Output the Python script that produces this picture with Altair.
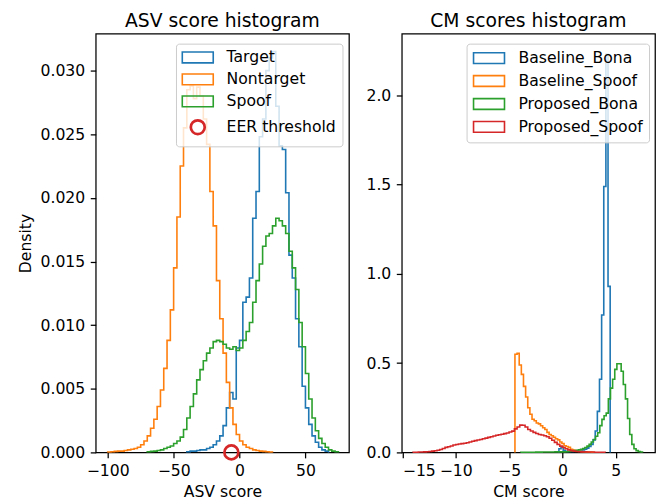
import altair as alt
import pandas as pd

FONT = "DejaVu Sans"
BLUE, ORANGE, GREEN, RED = "#1f77b4", "#ff7f0e", "#2ca02c", "#d62728"

# ---------------- ASV score histogram (density, bins of 2.5) ----------------
asv_series = ["Target", "Nontarget", "Spoof"]
asv_bin_width = 2.5

target_first_edge = -40.0
target_density = [
    0.00005, 0.0001, 0.0001, 0.00015, 0.0002, 0.0002, 0.0003, 0.0004, 0.0006, 0.0009,
    0.0013, 0.0021, 0.0035, 0.0047, 0.0042, 0.0082, 0.0088, 0.0118, 0.0122, 0.0137,
    0.0184, 0.0205, 0.0248, 0.0262, 0.0300, 0.0310, 0.0315, 0.0272, 0.0241, 0.0238,
    0.0204, 0.0155, 0.0137, 0.0105, 0.0083, 0.0052, 0.0035, 0.0022, 0.0013, 0.0008,
    0.0004, 0.0002, 0.0001,
]

nontarget_first_edge = -100.0
nontarget_density = [
    0.00003, 0.00005, 0.00008, 0.0001, 0.0001, 0.00015, 0.0002, 0.00025, 0.0003, 0.0004,
    0.0006, 0.0009, 0.0013, 0.0019, 0.0026, 0.0036, 0.0049, 0.0066, 0.0088, 0.0112,
    0.0145, 0.0185, 0.0225, 0.0255, 0.0285, 0.0288, 0.0278, 0.0287, 0.0280, 0.0262,
    0.0242, 0.0205, 0.0178, 0.0135, 0.0105, 0.0078, 0.0055, 0.0035, 0.0022, 0.0014,
    0.0009, 0.0006, 0.0004, 0.0003, 0.0002, 0.00015, 0.0001, 0.00008, 0.00005, 0.00003,
]

spoof_first_edge = -70.0
spoof_density = [
    0.00005, 0.00008, 0.0001, 0.00015, 0.0002, 0.0003, 0.0004, 0.0005, 0.0007, 0.0009,
    0.0012, 0.0018, 0.0027, 0.0036, 0.0046, 0.0057, 0.0065, 0.0072, 0.0078, 0.0082,
    0.0087, 0.0088, 0.0087, 0.0085, 0.0082, 0.0081, 0.0083, 0.0080, 0.0082, 0.0088,
    0.0095, 0.0102, 0.0118, 0.0135, 0.0148, 0.0162, 0.0170, 0.0172, 0.0178, 0.0184,
    0.0182, 0.0178, 0.0172, 0.0158, 0.0145, 0.0128, 0.0102, 0.0083, 0.0062, 0.0042,
    0.0027, 0.0017, 0.0011, 0.0007, 0.0004, 0.0002, 0.0001, 0.00005,
]

eer_label = "EER threshold"
eer_threshold_score = [-6.2]
eer_threshold_density = [0.0]

asv_x_ticks = [-100, -50, 0, 50]
asv_y_ticks = [0.0, 0.005, 0.010, 0.015, 0.020, 0.025, 0.030]

# ---------------- CM scores histogram ----------------
cm_series = ["Baseline_Bona", "Baseline_Spoof", "Proposed_Bona", "Proposed_Spoof"]

baseline_bona_first_edge = -0.33
baseline_bona_bin_width = 0.2
baseline_bona_density = [
    0.020, 0.030, 0.012, 0.006, 0.005, 0.005, 0.005, 0.006, 0.007, 0.009,
    0.011, 0.014, 0.018, 0.024, 0.033, 0.045, 0.070, 0.120, 0.230, 0.410,
    0.770, 1.490, 2.230, 0.930,
]

baseline_spoof_first_edge = -4.45
baseline_spoof_bin_width = 0.2
baseline_spoof_density = [
    0.550, 0.555, 0.490, 0.437, 0.370, 0.310, 0.250, 0.214, 0.186, 0.177,
    0.165, 0.160, 0.149, 0.138, 0.128, 0.112, 0.100, 0.093, 0.085, 0.076,
    0.070, 0.058, 0.050, 0.037, 0.033, 0.028, 0.018, 0.013, 0.010, 0.007,
    0.006, 0.005, 0.004, 0.003, 0.002, 0.002, 0.001,
]

proposed_bona_first_edge = -3.9
proposed_bona_bin_width = 0.2
proposed_bona_density = [
    0.001, 0.001, 0.001, 0.001, 0.001, 0.001, 0.001, 0.0015, 0.0015, 0.0015,
    0.002, 0.002, 0.002, 0.002, 0.0025, 0.0025, 0.003, 0.003, 0.003, 0.003,
    0.003, 0.004, 0.005, 0.006, 0.008, 0.010, 0.012, 0.015, 0.018, 0.022,
    0.027, 0.035, 0.045, 0.058, 0.072, 0.090, 0.110, 0.150, 0.185, 0.205,
    0.220, 0.300, 0.360, 0.410, 0.465, 0.497, 0.497, 0.455, 0.380, 0.300,
    0.190, 0.100, 0.045, 0.020, 0.010, 0.005, 0.002,
]

proposed_spoof_first_edge = -14.0
proposed_spoof_bin_width = 0.25
proposed_spoof_density = [
    0.001, 0.001, 0.002, 0.002, 0.003, 0.004, 0.005, 0.007, 0.009, 0.012,
    0.016, 0.022, 0.028, 0.032, 0.036, 0.041, 0.044, 0.047, 0.049, 0.051,
    0.054, 0.058, 0.062, 0.066, 0.069, 0.072, 0.076, 0.080, 0.084, 0.088,
    0.092, 0.096, 0.099, 0.102, 0.105, 0.109, 0.114, 0.119, 0.132, 0.142,
    0.153, 0.152, 0.142, 0.128, 0.120, 0.112, 0.106, 0.100, 0.097, 0.093,
    0.088, 0.079, 0.068, 0.056, 0.045, 0.035, 0.027, 0.020, 0.014, 0.010,
    0.007, 0.005, 0.004, 0.003, 0.003, 0.002, 0.002, 0.002, 0.001, 0.001,
    0.001, 0.001,
]

cm_x_ticks = [-15, -10, -5, 0, 5]
cm_y_ticks = [0.0, 0.5, 1.0, 1.5, 2.0]


def step_rows(name, first_edge, bin_width, heights):
    """Outline of a step histogram (matplotlib histtype='step')."""
    rows = [(first_edge, 0.0)]
    for i, h in enumerate(heights):
        rows.append((first_edge + i * bin_width, h))
    rows.append((first_edge + len(heights) * bin_width, 0.0))
    return [{"series": name, "score": x, "density": y, "idx": k} for k, (x, y) in enumerate(rows)]


asv_df = pd.DataFrame(
    step_rows("Target", target_first_edge, asv_bin_width, target_density)
    + step_rows("Nontarget", nontarget_first_edge, asv_bin_width, nontarget_density)
    + step_rows("Spoof", spoof_first_edge, asv_bin_width, spoof_density)
)
eer_df = pd.DataFrame({"series": [eer_label] * len(eer_threshold_score),
                       "score": eer_threshold_score, "density": eer_threshold_density})

cm_df = pd.DataFrame(
    step_rows("Baseline_Bona", baseline_bona_first_edge, baseline_bona_bin_width, baseline_bona_density)
    + step_rows("Baseline_Spoof", baseline_spoof_first_edge, baseline_spoof_bin_width, baseline_spoof_density)
    + step_rows("Proposed_Bona", proposed_bona_first_edge, proposed_bona_bin_width, proposed_bona_density)
    + step_rows("Proposed_Spoof", proposed_spoof_first_edge, proposed_spoof_bin_width, proposed_spoof_density)
)

# legend handles: wide outlined rectangle (2.07 * 7.5 ~ 15.5 px half-width) and a ring
RECT = "M-2.07,-0.72H2.07V0.72H-2.07Z"
RING = "M0.93,0A0.93,0.93 0 1,1 -0.93,0A0.93,0.93 0 1,1 0.93,0Z"
SYM_SIZE = 225

W, H = 254, 420
LW = 1.6

legend_common = dict(
    title=None, orient="none", legendY=10, padding=6,
    fillColor="rgba(255,255,255,0.8)", strokeColor="#cccccc", cornerRadius=3,
    labelFont=FONT, labelFontSize=15.7, labelColor="black",
    symbolSize=SYM_SIZE, symbolOffset=8, labelOffset=21, rowPadding=4, symbolOpacity=1,
)

# ---- left panel ----
asv_names = asv_series + [eer_label]
asv_colors = [BLUE, ORANGE, GREEN, RED]
asv_x = alt.X("score:Q", scale=alt.Scale(domain=[-109.1, 83.0], nice=False, zero=False),
              axis=alt.Axis(values=asv_x_ticks, format="d", title="ASV score"))
asv_y = alt.Y("density:Q", scale=alt.Scale(domain=[0, 0.0329], nice=False, zero=False),
              axis=alt.Axis(values=asv_y_ticks, format=".3f", title="Density"))

asv_legend = alt.Legend(
    legendX=80.5,
    symbolStrokeWidth={"expr": "datum && datum.value === 'EER threshold' ? 2.7 : 1.6"},
    **legend_common,
)

asv_line_layers = [
    alt.Chart(asv_df).transform_filter(alt.datum.series == name)
    .mark_line(interpolate="step-after", strokeWidth=LW, color=col)
    .encode(x=asv_x, y=asv_y, order="idx:Q")
    for name, col in zip(asv_series, asv_colors)
]
asv_eer = alt.Chart(eer_df).mark_point(filled=False, strokeWidth=2.7, size=SYM_SIZE, opacity=1).encode(
    x=asv_x, y=asv_y,
    color=alt.Color("series:N", scale=alt.Scale(domain=asv_names, range=asv_colors), legend=asv_legend),
    shape=alt.Shape("series:N", scale=alt.Scale(domain=asv_names, range=[RECT, RECT, RECT, RING]),
                    legend=asv_legend),
)
left = alt.layer(*asv_line_layers, asv_eer).properties(
    width=W, height=H, title="ASV score histogram"
)

# ---- right panel ----
cm_legend = alt.Legend(legendX=65, symbolType=RECT, symbolStrokeWidth=LW,
                       symbolFillColor="transparent", **legend_common)
right = alt.Chart(cm_df).mark_line(interpolate="step-after", strokeWidth=LW).encode(
    x=alt.X("score:Q", scale=alt.Scale(domain=[-15.05, 8.67], nice=False, zero=False),
            axis=alt.Axis(values=cm_x_ticks, format="d", title="CM score")),
    y=alt.Y("density:Q", scale=alt.Scale(domain=[0, 2.346], nice=False, zero=False),
            axis=alt.Axis(values=cm_y_ticks, format=".1f", title=None)),
    color=alt.Color("series:N", scale=alt.Scale(domain=cm_series, range=[BLUE, ORANGE, GREEN, RED]),
                    legend=cm_legend),
    order="idx:Q",
).properties(width=W, height=H, title="CM scores histogram")

chart = alt.hconcat(left, right, spacing=15).resolve_scale(
    color="independent", shape="independent"
).resolve_legend(
    color="independent", shape="independent"
).properties(
    padding={"left": 9, "top": 2, "right": 0, "bottom": 0},
    background="white",
).configure(font=FONT).configure_view(
    stroke="black", strokeWidth=1.26
).configure_axis(
    domain=False, grid=False, ticks=True, tickSize=5.5, tickWidth=1.26, tickColor="black",
    labelFont=FONT, labelFontSize=15.7, labelColor="black", labelPadding=5.5,
    titleFont=FONT, titleFontSize=15.7, titleFontWeight="normal", titleColor="black",
    titlePadding=6.3,
).configure_title(
    font=FONT, fontSize=18.8, fontWeight="normal", color="black", offset=3, anchor="middle"
)

chart.save("out.html", embed_options={"renderer": "svg", "actions": False})
